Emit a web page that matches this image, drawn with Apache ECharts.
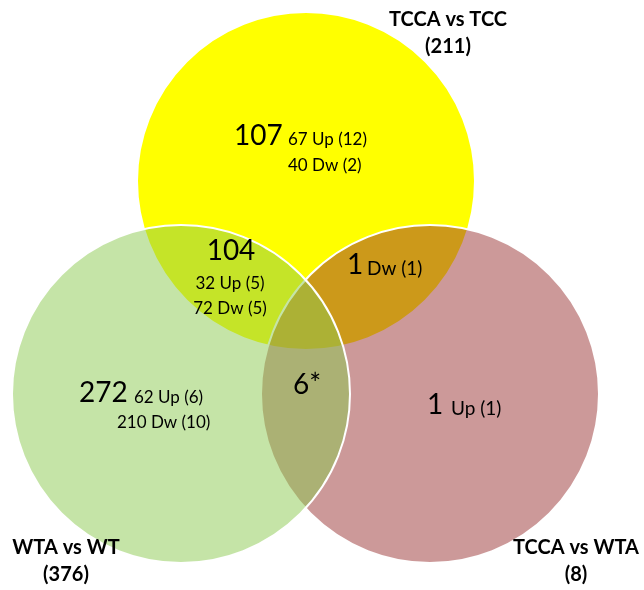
<!DOCTYPE html>
<html>
<head>
<meta charset="utf-8">
<script src="https://cdn.jsdelivr.net/npm/echarts@6/dist/echarts.min.js"></script>
<style>
    html, body { margin: 0; padding: 0; background: #fff; }
    #venn { width: 644px; height: 590px; }
</style>
</head>
<body>
<div id="venn"></div>
<script>
// sets: name and total
var setNames = ['TCCA vs TCC', 'WTA vs WT', 'TCCA vs WTA'];
var setTotals = [211, 376, 8];

// regions: TCC only, TCC&WT, TCC&WTA, all three, WT only, WTA only
var regionCounts = [107, 104, 1, 6, 272, 1];
var regionMarks = ['', '', '', '*', '', ''];
var regionUp = [67, 32, 0, null, 62, 1];
var regionUpSig = [12, 5, 0, null, 6, 1];
var regionDw = [40, 72, 1, null, 210, 0];
var regionDwSig = [2, 5, 1, null, 10, 0];

// layout (chart units = pixels)
var circleCenters = [[306, 181], [181, 394], [430, 394]];
var circleRadius = 169;
var circleFill = ['#ffff00', 'rgba(140,202,80,0.5)', 'rgba(153,51,51,0.5)'];
var drawOrder = [0, 2, 1];
var setLabelPos = [[448, 20], [66, 548], [576, 548]];
var countPos = [[234, 136], [231, 251], [347, 265], [307, 385], [79, 393], [427, 405]];
var countAlign = ['left', 'center', 'left', 'center', 'left', 'left'];
var upPos = [[288, 140], [230, 284], null, null, [134, 398], [451, 409]];
var dwPos = [[288, 166], [230, 309], [367, 269], null, [117, 423], null];
var subAlign = ['left', 'center', 'left', 'left', 'left', 'left'];

var font = 'Lato, "Open Sans", sans-serif';

// build label list
var labels = [];
for (var i = 0; i < setNames.length; i++) {
    labels.push({pos: setLabelPos[i], text: setNames[i], size: 20, weight: 'bold', align: 'center'});
    labels.push({pos: [setLabelPos[i][0], setLabelPos[i][1] + 27], text: '(' + setTotals[i] + ')', size: 20, weight: 'bold', align: 'center'});
}
for (var j = 0; j < regionCounts.length; j++) {
    labels.push({pos: countPos[j], text: regionCounts[j] + regionMarks[j], size: 28, weight: 'normal', align: countAlign[j]});
    var both = regionUp[j] > 0 && regionDw[j] > 0;
    if (regionUp[j] > 0) {
        labels.push({pos: upPos[j], text: (both ? regionUp[j] + ' ' : '') + 'Up (' + regionUpSig[j] + ')',
            size: both ? 17 : 19, weight: 'normal', align: subAlign[j]});
    }
    if (regionDw[j] > 0) {
        labels.push({pos: dwPos[j], text: (both ? regionDw[j] + ' ' : '') + 'Dw (' + regionDwSig[j] + ')',
            size: both ? 17 : 19, weight: 'normal', align: subAlign[j]});
    }
}

var dom = document.getElementById('venn');
var myChart = echarts.init(dom);

var option = {
    animation: false,
    grid: {left: 0, right: 0, top: 0, bottom: 0},
    xAxis: {type: 'value', min: 0, max: 644, show: false},
    yAxis: {type: 'value', min: 0, max: 590, inverse: true, show: false},
    series: [
        {
            // circles
            type: 'custom',
            clip: false,
            data: drawOrder.map(function (k) { return [circleCenters[k][0], circleCenters[k][1], k]; }),
            renderItem: function (params, api) {
                var c = api.coord([api.value(0), api.value(1)]);
                var r = api.size([circleRadius, circleRadius])[0];
                var k = api.value(2);
                return {
                    type: 'circle',
                    shape: {cx: c[0], cy: c[1], r: r},
                    style: {fill: circleFill[k], stroke: '#ffffff', lineWidth: 2}
                };
            }
        },
        {
            // texts
            type: 'custom',
            clip: false,
            z: 5,
            data: labels.map(function (l) { return l.pos; }),
            renderItem: function (params, api) {
                var l = labels[params.dataIndex];
                var p = api.coord([api.value(0), api.value(1)]);
                return {
                    type: 'text',
                    x: p[0],
                    y: p[1],
                    style: {
                        text: l.text,
                        fontSize: l.size,
                        fontWeight: l.weight,
                        fontFamily: font,
                        fill: '#000',
                        align: l.align,
                        verticalAlign: 'middle'
                    }
                };
            }
        }
    ]
};

myChart.setOption(option);
window.onresize = myChart.resize;
</script>
</body>
</html>
